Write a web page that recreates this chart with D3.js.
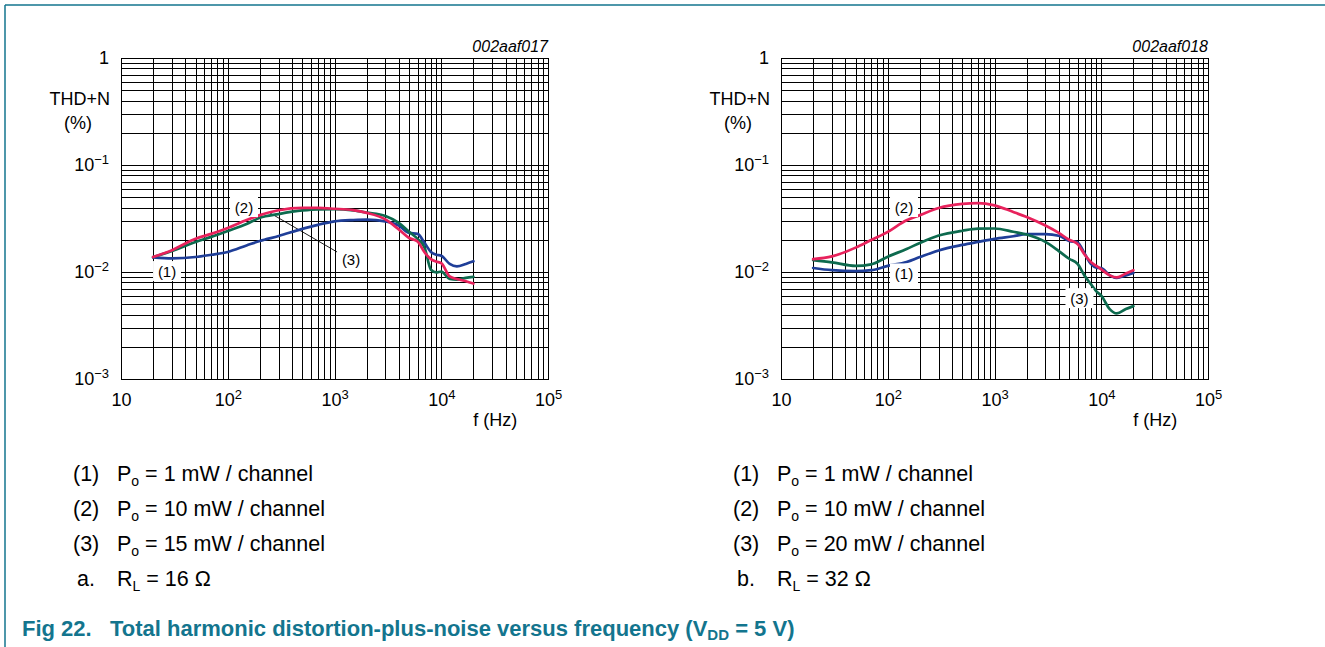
<!DOCTYPE html>
<html><head><meta charset="utf-8">
<script src="https://cdn.jsdelivr.net/npm/d3@7"></script>
<style>
html,body{margin:0;padding:0;background:#fff;}
svg{display:block;font-family:"Liberation Sans",Arial,sans-serif;}
</style></head>
<body><svg id="chart" width="1325" height="647"></svg>
<script>
// ---------- data ----------
const freqs = [20,30,50,70,100,150,200,300,500,700,1000,1500,2000,3000,4000,5000,6000,7000,8000,9000,10000,12000,14000,17000,20000];

// chart a (RL = 16 ohm)
const a_1mW  = [0.0137,0.0134,0.0138,0.0145,0.0154,0.0177,0.0195,0.0217,0.0253,0.0276,0.0297,0.0306,0.0309,0.0297,0.0271,0.0232,0.0227,0.0186,0.0154,0.0145,0.0142,0.0119,0.0113,0.0119,0.0126];
const a_10mW = [0.0138,0.0160,0.0205,0.0227,0.0258,0.0306,0.0340,0.0378,0.0397,0.0397,0.0390,0.0378,0.0357,0.0310,0.0250,0.0208,0.0193,0.0152,0.0132,0.0125,0.0121,0.0091,0.0086,0.0082,0.0078];
const a_15mW = [0.0138,0.0157,0.0191,0.0213,0.0242,0.0281,0.0321,0.0348,0.0376,0.0385,0.0386,0.0376,0.0360,0.0334,0.0288,0.0237,0.0204,0.0168,0.0105,0.0099,0.0101,0.0086,0.0085,0.0088,0.0090];

// chart b (RL = 32 ohm)
const b_1mW  = [0.0109,0.0104,0.0102,0.0104,0.0114,0.0124,0.0138,0.0159,0.0179,0.0191,0.0204,0.0216,0.0226,0.0226,0.0218,0.0195,0.0189,0.0148,0.0119,0.0110,0.0109,0.0093,0.0088,0.0093,0.0098];
const b_10mW = [0.0132,0.0140,0.0169,0.0199,0.0237,0.0304,0.0340,0.0397,0.0434,0.0441,0.0420,0.0364,0.0327,0.0272,0.0232,0.0200,0.0183,0.0145,0.0124,0.0114,0.0106,0.0093,0.0089,0.0097,0.0104];
const b_20mW = [0.0129,0.0123,0.0114,0.0118,0.0139,0.0164,0.0187,0.0219,0.0243,0.0254,0.0255,0.0238,0.0224,0.0191,0.0157,0.0133,0.0119,0.0092,0.0077,0.0066,0.0060,0.0045,0.0041,0.0045,0.0048];

const xTickValues = [10,100,1000,10000,100000];
const xTickSup    = ["","2","3","4","5"];
const yTickValues = [1,0.1,0.01,0.001];
const yTickBase   = ["1","10","10","10"];
const yTickSup    = ["","\u22121","\u22122","\u22123"];

const legendA = [["(1)","1 mW / channel"],["(2)","10 mW / channel"],["(3)","15 mW / channel"]];
const legendB = [["(1)","1 mW / channel"],["(2)","10 mW / channel"],["(3)","20 mW / channel"]];

// ---------- drawing ----------
const svg = d3.select("#chart");
const TEAL = "#13758e";
const COL1 = "#1f3e98", COL2 = "#e8225c", COL3 = "#0d6a4e";
const FS = 18;      // chart text
const LFS = 21.5;   // legend text

// frame
svg.append("line").attr("x1",5).attr("y1",5).attr("x2",1325).attr("y2",5).attr("stroke",TEAL).attr("stroke-width",1.5);
svg.append("line").attr("x1",5).attr("y1",5).attr("x2",5).attr("y2",647).attr("stroke",TEAL).attr("stroke-width",1.5);

function drawChart(ox, code, series, callouts, leader){
  const x = d3.scaleLog().domain([10,1e5]).range([ox, ox+427]);
  const y = d3.scaleLog().domain([1e-3,1]).range([379,58]);
  const g = svg.append("g");

  // grid via axes
  const gx = g.append("g").attr("transform","translate(0,379)")
    .call(d3.axisBottom(x).tickSize(-321).tickFormat(""));
  const gy = g.append("g").attr("transform",`translate(${ox},0)`)
    .call(d3.axisLeft(y).tickSize(-427).tickFormat(""));
  [gx,gy].forEach(a=>{
    a.selectAll(".tick line").attr("stroke","#000").attr("stroke-width",1).attr("shape-rendering","crispEdges");
    a.select(".domain").remove();
  });
  g.append("rect").attr("x",ox).attr("y",58).attr("width",427).attr("height",321)
    .attr("fill","none").attr("stroke","#000").attr("stroke-width",1).attr("shape-rendering","crispEdges");

  // x labels
  const ax = g.append("g").attr("transform","translate(0,379)")
    .call(d3.axisBottom(x).tickValues(xTickValues).tickSize(0).tickPadding(14).tickFormat(""));
  ax.select(".domain").remove();
  ax.selectAll(".tick text").attr("font-size",FS).attr("fill","#000").attr("font-family","Liberation Sans, Arial, sans-serif")
    .each(function(d,i){
      const t = d3.select(this);
      t.append("tspan").text("10");
      if (xTickSup[i]) t.append("tspan").attr("font-size",13).attr("dy","-0.55em").text(xTickSup[i]);
    });

  // y labels
  const ay = g.append("g").attr("transform",`translate(${ox},0)`)
    .call(d3.axisLeft(y).tickValues(yTickValues).tickSize(0).tickPadding(12).tickFormat(""));
  ay.select(".domain").remove();
  ay.selectAll(".tick text").attr("font-size",FS).attr("fill","#000").attr("font-family","Liberation Sans, Arial, sans-serif")
    .each(function(d,i){
      const t = d3.select(this);
      t.append("tspan").text(yTickBase[i]);
      if (yTickSup[i]) t.append("tspan").attr("font-size",13).attr("dy","-0.55em").text(yTickSup[i]);
    });

  // axis titles
  g.append("text").attr("x",ox-11).attr("y",105).attr("text-anchor","end").attr("font-size",FS).text("THD+N");
  g.append("text").attr("x",ox-43).attr("y",129).attr("text-anchor","middle").attr("font-size",FS).text("(%)");
  g.append("text").attr("x",x(1e4)+54).attr("y",426).attr("text-anchor","middle").attr("font-size",FS).text("f (Hz)");
  g.append("text").attr("x",ox+427).attr("y",52).attr("text-anchor","end").attr("font-size",16).attr("font-style","italic").text(code);

  // curves
  const line = d3.line().x((d,i)=>x(freqs[i])).y(d=>y(d)).curve(d3.curveMonotoneX);
  if (leader){
    g.append("line").attr("x1",x(leader[0][0])).attr("y1",y(leader[0][1])).attr("x2",x(leader[1][0])).attr("y2",y(leader[1][1]))
      .attr("stroke","#000").attr("stroke-width",0.9);
  }
  series.forEach(s=>{
    g.append("path").datum(s.values).attr("d",line).attr("fill","none").attr("stroke",s.color)
      .attr("stroke-width",2.7).attr("stroke-linejoin","round").attr("stroke-linecap","round");
  });

  // callouts
  callouts.forEach(c=>{
    const cx = x(c.f), cy = y(c.v);
    g.append("rect").attr("x",cx-14).attr("y",cy-10).attr("width",28).attr("height",20).attr("fill","#fff");
    g.append("text").attr("x",cx).attr("y",cy+5.5).attr("text-anchor","middle").attr("font-size",15).text(c.label);
  });
}

drawChart(121, "002aaf017",
  [{values:a_1mW,color:COL1},{values:a_15mW,color:COL3},{values:a_10mW,color:COL2}],
  [{label:"(2)",f:142,v:0.0405},{label:"(1)",f:27,v:0.0102},{label:"(3)",f:1429,v:0.0132}],
  [[249,0.0356],[1079,0.0152]]);
drawChart(781, "002aaf018",
  [{values:b_1mW,color:COL1},{values:b_20mW,color:COL3},{values:b_10mW,color:COL2}],
  [{label:"(2)",f:142,v:0.0405},{label:"(1)",f:142,v:0.0097},{label:"(3)",f:6250,v:0.0057}],
  null);

// legends
function legend(x0, items, letter, rl){
  const rows = [481,516,551];
  items.forEach((it,i)=>{
    svg.append("text").attr("x",x0).attr("y",rows[i]).attr("font-size",LFS).text(it[0]);
    const t = svg.append("text").attr("x",x0+44).attr("y",rows[i]).attr("font-size",LFS);
    t.append("tspan").text("P");
    t.append("tspan").attr("font-size",14).attr("dy",5).text("o");
    t.append("tspan").attr("dy",-5).text(" = " + it[1]);
  });
  svg.append("text").attr("x",x0+4).attr("y",586).attr("font-size",LFS).text(letter);
  const t = svg.append("text").attr("x",x0+44).attr("y",586).attr("font-size",LFS);
  t.append("tspan").text("R");
  t.append("tspan").attr("font-size",14).attr("dy",5).text("L");
  t.append("tspan").attr("dy",-5).text(" = " + rl + " \u03A9");
}
legend(73, legendA, "a.", "16");
legend(733, legendB, "b.", "32");

// caption
svg.append("text").attr("x",22).attr("y",636).attr("font-size",22).attr("font-weight","bold").attr("fill",TEAL).text("Fig 22.");
const cap = svg.append("text").attr("x",110).attr("y",636).attr("font-size",22).attr("font-weight","bold").attr("fill",TEAL);
cap.append("tspan").text("Total harmonic distortion-plus-noise versus frequency (V");
cap.append("tspan").attr("font-size",15).attr("dy",4).text("DD");
cap.append("tspan").attr("dy",-4).text(" = 5 V)");
</script>
</body></html>
